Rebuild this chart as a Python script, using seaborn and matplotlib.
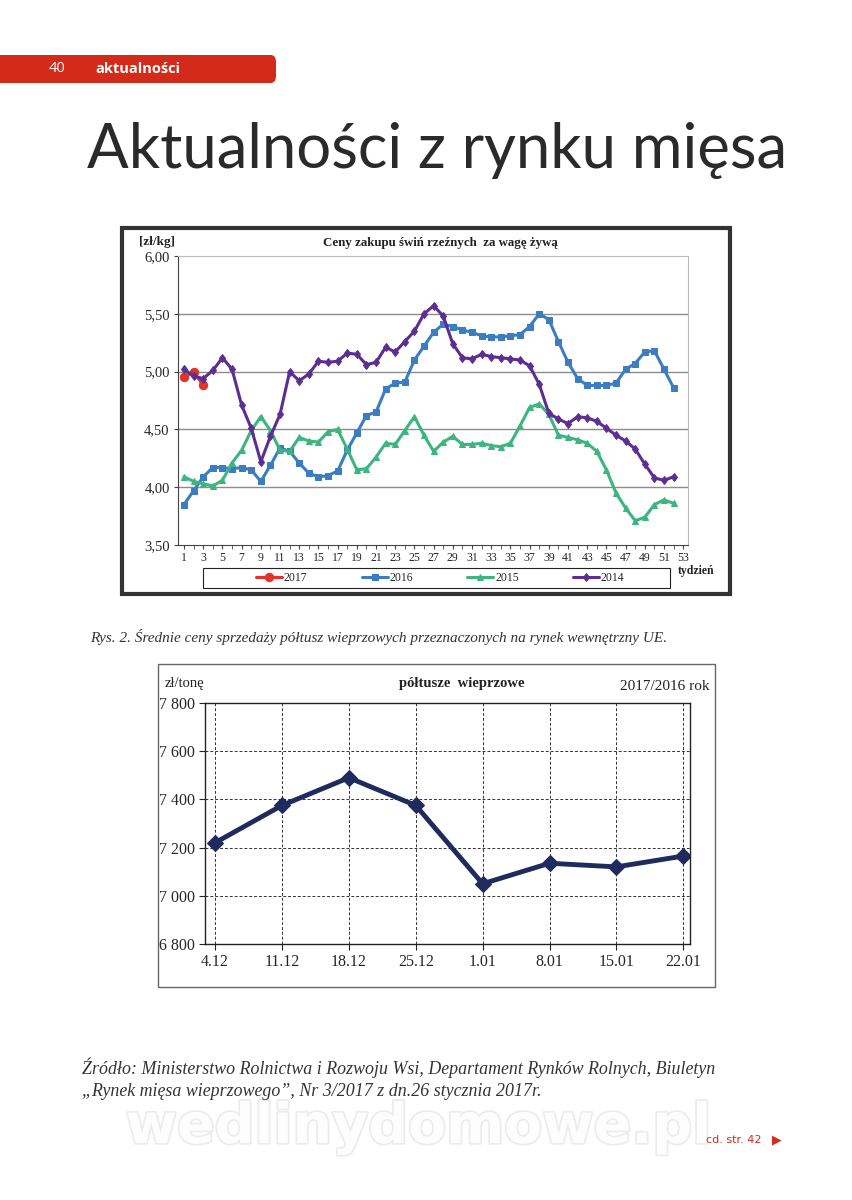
import numpy as np
import pandas as pd
import matplotlib
matplotlib.use('Agg')
import matplotlib.pyplot as plt
import matplotlib.patches as mpatches
import matplotlib.patheffects as pe
from matplotlib.ticker import FuncFormatter, MultipleLocator
import seaborn as sns

# Dane - ceny zakupu świń rzeźnych [zł/kg], tygodnie 1-52
tygodnie = list(range(1, 53))
ceny_2017 = [4.95, 5.00, 4.88]
ceny_2016 = [3.85, 3.97, 4.09, 4.17, 4.17, 4.16, 4.17, 4.15, 4.05, 4.19,
             4.34, 4.31, 4.21, 4.12, 4.09, 4.10, 4.14, 4.32, 4.47, 4.62,
             4.65, 4.85, 4.90, 4.91, 5.10, 5.22, 5.34, 5.41, 5.39, 5.36,
             5.34, 5.31, 5.30, 5.30, 5.31, 5.32, 5.39, 5.50, 5.45, 5.26,
             5.08, 4.94, 4.88, 4.88, 4.88, 4.90, 5.02, 5.07, 5.17, 5.18,
             5.02, 4.86]
ceny_2015 = [4.09, 4.05, 4.03, 4.01, 4.06, 4.21, 4.32, 4.49, 4.61, 4.49,
             4.32, 4.31, 4.43, 4.40, 4.39, 4.48, 4.50, 4.33, 4.15, 4.16,
             4.26, 4.38, 4.37, 4.49, 4.61, 4.45, 4.31, 4.39, 4.44, 4.37,
             4.37, 4.38, 4.36, 4.35, 4.38, 4.53, 4.69, 4.72, 4.63, 4.45,
             4.43, 4.41, 4.38, 4.31, 4.15, 3.95, 3.82, 3.71, 3.74, 3.85,
             3.89, 3.86]
ceny_2014 = [5.02, 4.96, 4.94, 5.01, 5.12, 5.02, 4.71, 4.51, 4.22, 4.44,
             4.63, 5.00, 4.92, 4.98, 5.09, 5.08, 5.09, 5.16, 5.15, 5.06,
             5.08, 5.21, 5.17, 5.26, 5.35, 5.50, 5.57, 5.48, 5.24, 5.12,
             5.11, 5.15, 5.13, 5.12, 5.11, 5.10, 5.05, 4.89, 4.64, 4.59,
             4.55, 4.61, 4.60, 4.57, 4.51, 4.45, 4.40, 4.33, 4.20, 4.08,
             4.06, 4.09]

# Dane - półtusze wieprzowe [zł/tonę]
daty = ['4.12', '11.12', '18.12', '25.12', '1.01', '8.01', '15.01', '22.01']
ceny_poltusze = [7220, 7375, 7490, 7375, 7050, 7135, 7120, 7165]

sns.set_style('white')
plt.rcParams['font.family'] = ['Liberation Serif', 'DejaVu Serif']

W, H = 853, 1200
fig = plt.figure(figsize=(W / 100, H / 100), dpi=100)


def fx(px):
    return px / W


def fy(py):
    return 1 - py / H


# Nagłówek strony
fig.add_artist(mpatches.FancyBboxPatch((fx(-20), fy(83)), fx(296), fy(55) - fy(83),
                                       boxstyle='round,pad=0,rounding_size=0.006',
                                       transform=fig.transFigure, color='#d42a1a', lw=0))
fig.text(fx(57), fy(69), '40', color='white', fontsize=10.5, ha='center', va='center',
         family=['Open Sans', 'DejaVu Sans'])
fig.text(fx(95), fy(69), 'aktualności', color='white', fontsize=10.5, fontweight='bold',
         ha='left', va='center', family=['Open Sans', 'DejaVu Sans'])
fig.text(fx(87), fy(168), 'Aktualności z rynku mięsa', fontsize=44.4, color='#2a2a2a',
         fontweight='normal', ha='left', va='baseline', family=['Lato', 'DejaVu Sans'])

# Wykres 1 - ramka
fig.add_artist(mpatches.Rectangle((fx(122), fy(594)), fx(730) - fx(122), fy(228) - fy(594),
                                  transform=fig.transFigure, fill=False, lw=3, ec='#333333'))

ax1 = fig.add_axes([fx(178), fy(545), fx(688) - fx(178), fy(256) - fy(545)])
serie = [('2017', tygodnie[:len(ceny_2017)], ceny_2017, '#e2322a', 'o', 6),
         ('2016', tygodnie, ceny_2016, '#3b7dc0', 's', 5),
         ('2015', tygodnie, ceny_2015, '#3db57f', '^', 5),
         ('2014', tygodnie, ceny_2014, '#5c2e91', 'd', 4.5)]
for nazwa, x, y, kolor, znak, rozm in serie:
    sns.lineplot(x=x, y=y, ax=ax1, color=kolor, marker=znak, markersize=rozm,
                 markeredgecolor=kolor, linewidth=2.2, label=nazwa)

ax1.set_ylim(3.5, 6.0)
ax1.set_xlim(0.37, 53.5)
ax1.set_yticks([3.5, 4.0, 4.5, 5.0, 5.5, 6.0])
ax1.yaxis.set_major_formatter(FuncFormatter(lambda v, p: f'{v:.2f}'.replace('.', ',')))
ax1.set_xticks(range(1, 54, 2))
ax1.xaxis.set_minor_locator(MultipleLocator(1))
ax1.tick_params(axis='x', which='both', direction='out', length=3, color='#444',
                bottom=True, labelsize=8.5, pad=2)
ax1.tick_params(axis='y', direction='out', length=3, color='#444', left=True,
                labelsize=10.5, pad=3)
for v in [4.0, 4.5, 5.0, 5.5]:
    ax1.axhline(v, color='#8c8c8c', lw=1, zorder=0)
for s in ['top', 'right']:
    ax1.spines[s].set_color('#bbbbbb')
for s in ['left', 'bottom']:
    ax1.spines[s].set_color('#444444')
ax1.set_xlabel('')
ax1.set_ylabel('')
uchwyty, etykiety = ax1.get_legend_handles_labels()
ax1.get_legend().remove()
fig.add_artist(mpatches.Rectangle((fx(203), fy(588)), fx(670) - fx(203), fy(568) - fy(588),
                                  transform=fig.transFigure, fill=False, lw=0.8, ec='#222222'))
fig.legend(uchwyty, etykiety, ncol=4, loc='center left',
           bbox_to_anchor=(fx(256), fy(578)), frameon=False,
           fontsize=8.5, handlelength=2.2, columnspacing=4.6, borderpad=0,
           borderaxespad=0, handletextpad=0.15)
fig.text(fx(440), fy(243), 'Ceny zakupu świń rzeźnych  za wagę żywą', fontsize=9.3,
         fontweight='bold', ha='center', va='center', color='#222222')
fig.text(fx(139), fy(242), '[zł/kg]', fontsize=9.5, fontweight='bold', ha='left',
         va='center', color='#222222')
fig.text(fx(696), fy(571), 'tydzień', fontsize=8.5, fontweight='bold', ha='center',
         va='center', color='#222222')

# Podpis
fig.text(fx(90), fy(637), 'Rys. 2. Średnie ceny sprzedaży półtusz wieprzowych przeznaczonych '
         'na rynek wewnętrzny UE.', fontsize=11, style='italic', ha='left', va='center',
         color='#333333')

# Wykres 2 - ramka
fig.add_artist(mpatches.Rectangle((fx(158), fy(987)), fx(715) - fx(158), fy(664) - fy(987),
                                  transform=fig.transFigure, fill=False, lw=1, ec='#666666'))
ax2 = fig.add_axes([fx(205), fy(944), fx(690) - fx(205), fy(703) - fy(944)])
dane2 = pd.DataFrame({'data': daty, 'cena': ceny_poltusze})
sns.lineplot(data=dane2, x='data', y='cena', ax=ax2, sort=False, color='#1f2a5e',
             linewidth=3.5, marker='D', markersize=8, markeredgecolor='#1f2a5e')
ax2.set_ylim(6800, 7800)
ax2.set_xlim(-0.15, 7.1)
ax2.set_yticks(range(6800, 7801, 200))
ax2.yaxis.set_major_formatter(FuncFormatter(lambda v, p: f'{int(v):,}'.replace(',', ' ')))
ax2.grid(True, linestyle=(0, (3, 2)), color='#333333', lw=0.7)
ax2.set_axisbelow(True)
ax2.tick_params(axis='both', direction='out', length=4, color='#222', bottom=True,
                left=True, labelsize=11.5, pad=3)
for s in ax2.spines.values():
    s.set_color('#222222')
    s.set_linewidth(1)
ax2.set_xlabel('')
ax2.set_ylabel('')
fig.text(fx(165), fy(683), 'zł/tonę', fontsize=10.5, ha='left', va='center', color='#222222')
fig.text(fx(462), fy(683), 'półtusze  wieprzowe', fontsize=10.5, fontweight='bold',
         ha='center', va='center', color='#222222')
fig.text(fx(710), fy(686), '2017/2016 rok', fontsize=11, ha='right', va='center',
         color='#222222')

# Źródło
fig.text(fx(82), fy(1068), 'Źródło: Ministerstwo Rolnictwa i Rozwoju Wsi, Departament Rynków '
         'Rolnych, Biuletyn', fontsize=12.9, style='italic', ha='left', va='center',
         color='#333333')
fig.text(fx(82), fy(1091), '„Rynek mięsa wieprzowego”, Nr 3/2017 z dn.26 stycznia 2017r.',
         fontsize=12.9, style='italic', ha='left', va='center', color='#333333')

# Znak wodny i odsyłacz
fig.text(fx(418), fy(1128), 'wedlinydomowe.pl', fontsize=40, fontweight='bold',
         ha='center', va='center', color='#fdfdfd', family=['DejaVu Sans'],
         path_effects=[pe.withStroke(linewidth=2.5, foreground='#ececec')], zorder=0)
fig.text(fx(762), fy(1140), 'cd. str. 42', fontsize=8, ha='right', va='center',
         color='#d42a1a', family=['DejaVu Sans'])
fig.text(fx(777), fy(1140), '▶', fontsize=9, ha='center', va='center', color='#d42a1a',
         family=['DejaVu Sans'])

fig.savefig('out.png', dpi=100)
